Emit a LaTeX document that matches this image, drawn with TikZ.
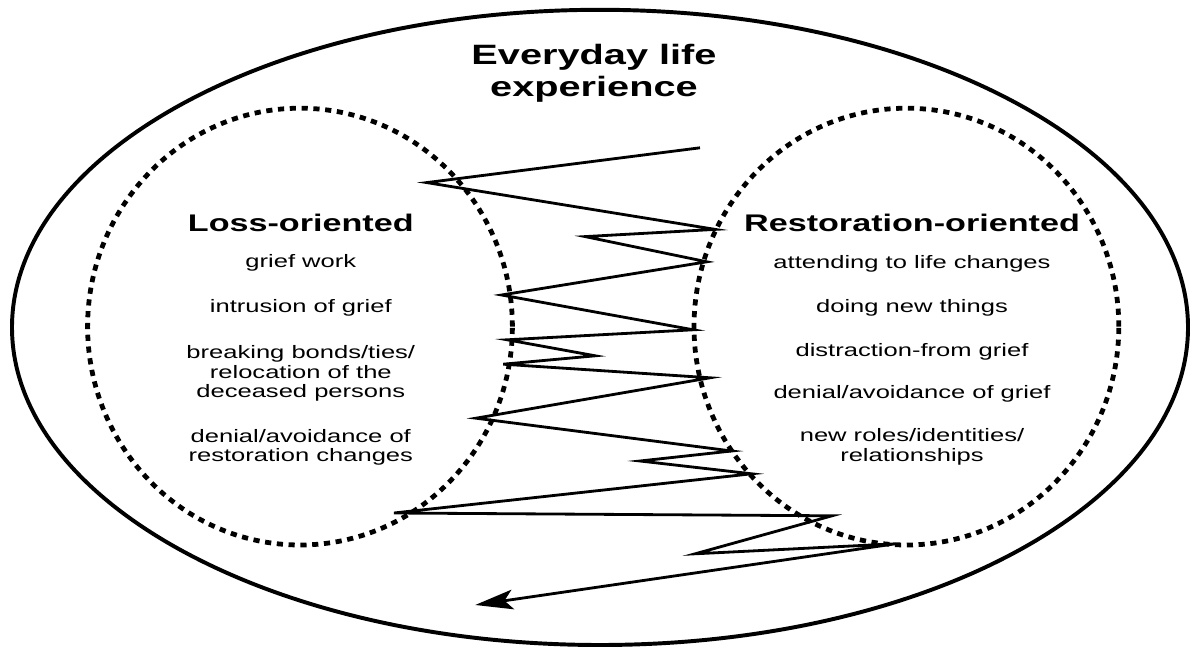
\documentclass[tikz,border=0pt]{standalone}
\usepackage{fontspec}
\setmainfont{Liberation Sans}[FakeStretch=1.42]
\usetikzlibrary{shapes.geometric, arrows.meta, positioning}

\begin{document}
\begin{tikzpicture}[
        life_frame/.style={
            ellipse,
            draw,
            line width=2.8pt,
            minimum width=29.4cm,
            minimum height=15.88cm,
            inner sep=0pt
        },
        orient_circle/.style={
            ellipse,
            draw,
            line width=3.4pt,
            dash pattern=on 4.4pt off 4pt,
            minimum width=10.62cm,
            minimum height=10.92cm,
            inner sep=0pt
        },
        main_title/.style={align=center, anchor=base, inner sep=0pt, font=\fontsize{19.9}{22.8}\selectfont\bfseries},
        side_head/.style={anchor=base, inner sep=0pt, font=\fontsize{17.1}{20}\selectfont\bfseries},
        side_item/.style={align=center, anchor=base, inner sep=0pt, font=\fontsize{12.8}{14.2}\selectfont},
        zigzag/.style={line width=2pt, -{Stealth[length=27pt, width=14pt, inset=6pt]}}
    ]
    \useasboundingbox (0,0) rectangle (29.875,16.275);

    % Outer frame and the two orientations
    \node[life_frame] (life) at (15,8.09) {};
    \node[orient_circle] (loss) at (7.5,8.11) {};
    \node[orient_circle] (resto) at (22.66,8.11) {};

    % base of a multi-line node = its last line
    \node[main_title] (life_title) at (14.85,13.85) {Everyday life\\experience};

    % Loss-oriented side
    \node[side_head] (loss_head) at (7.52,10.475) {Loss-oriented};
    \node[side_item, below=0.9cm of loss_head.base, anchor=base] (loss_work) {grief work};
    \node[side_item, below=1.125cm of loss_work.base, anchor=base] (loss_intrusion) {intrusion of grief};
    \node[side_item, below=2.125cm of loss_intrusion.base, anchor=base] (loss_bonds) {breaking bonds/ties/\\relocation of the\\deceased persons};
    \node[side_item, below=1.6cm of loss_bonds.base, anchor=base] (loss_denial) {denial/avoidance of\\restoration changes};

    % Restoration-oriented side
    \node[side_head] (resto_head) at (22.8,10.475) {Restoration-oriented};
    \node[side_item, below=0.92cm of resto_head.base, anchor=base] (resto_changes) {attending to life changes};
    \node[side_item, below=1.1cm of resto_changes.base, anchor=base] (resto_new) {doing new things};
    \node[side_item, below=1.1cm of resto_new.base, anchor=base] (resto_distract) {distraction-from grief};
    \node[side_item, below=1.05cm of resto_distract.base, anchor=base] (resto_denial) {denial/avoidance of grief};
    \node[side_item, below=1.575cm of resto_denial.base, anchor=base] (resto_roles) {new roles/identities/\\relationships};

    % Oscillation between the two
    \draw[zigzag] (17.50,12.58) -- (10.67,11.71) -- (17.88,10.54) -- (14.63,10.36)
        -- (17.67,9.73) -- (12.54,8.90) -- (17.33,8.03) -- (12.68,7.78)
        -- (14.88,7.38) -- (12.58,7.17) -- (17.75,6.83) -- (11.90,5.82)
        -- (18.29,5.00) -- (16.00,4.75) -- (18.79,4.43) -- (9.85,3.45)
        -- (20.80,3.38) -- (17.38,2.43) -- (22.38,2.68) -- (11.88,1.15);

\end{tikzpicture}
\end{document}
